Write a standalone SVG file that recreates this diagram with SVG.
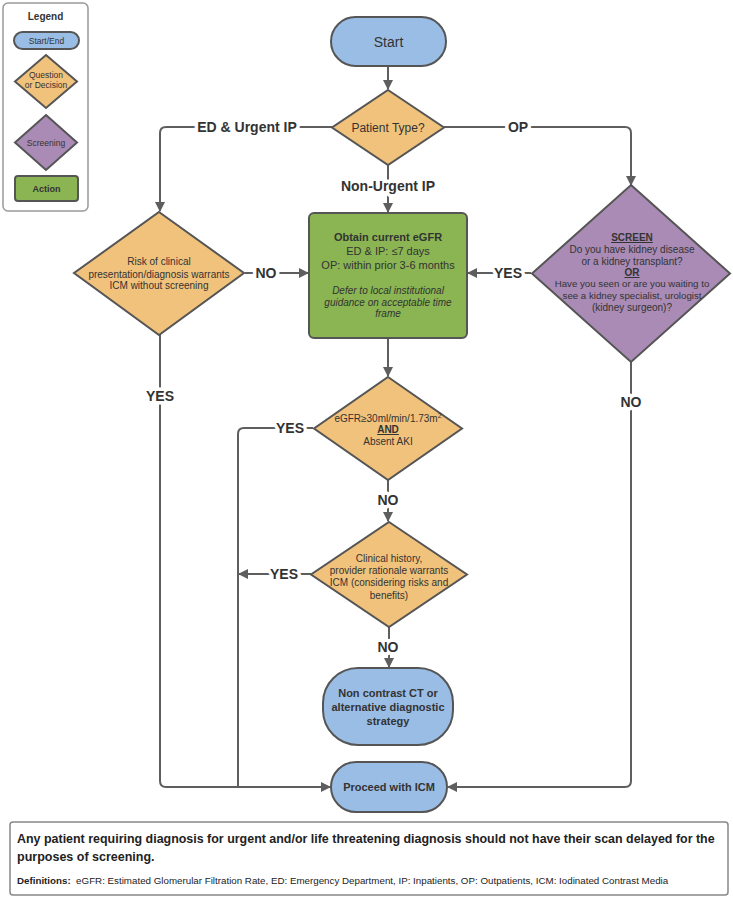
<svg xmlns="http://www.w3.org/2000/svg" width="733" height="900" viewBox="0 0 733 900">
<defs>
<marker id="arr" viewBox="0 0 10 10" refX="9" refY="5" markerWidth="10" markerHeight="10" markerUnits="userSpaceOnUse" orient="auto">
<path d="M0,0 L10,5 L0,10 z" fill="#5e5e5e"/>
</marker>
<style>
.t{font-family:"Liberation Sans",Arial,sans-serif;fill:#333;text-anchor:middle}
.b{font-weight:bold}
.lbl{font-family:"Liberation Sans",Arial,sans-serif;font-size:14px;font-weight:bold;fill:#333;text-anchor:middle;stroke:#fff;stroke-width:7px;paint-order:stroke;stroke-linejoin:round}
.blue{fill:#9abde5;stroke:#555;stroke-width:2}
.org{fill:#f1c27b;stroke:#555;stroke-width:2}
.pur{fill:#a98bb5;stroke:#555;stroke-width:2}
.grn{fill:#8ab552;stroke:#555;stroke-width:2}
.con{fill:none;stroke:#5e5e5e;stroke-width:2}
.u{text-decoration:underline}
.n{font-family:"Liberation Sans",Arial,sans-serif;fill:#222}
</style>
</defs>
<rect width="733" height="900" fill="#fff"/>

<g id="legend">
<rect x="3" y="3" width="85" height="208" rx="5" fill="#fff" stroke="#999" stroke-width="1.5"/>
<text class="t b" x="45.5" y="20" font-size="10">Legend</text>
<rect class="blue" x="14" y="32" width="65" height="17" rx="8.5" stroke-width="1.5"/>
<text class="t" x="46.5" y="43.5" font-size="8.5">Start/End</text>
<polygon class="org" points="46,55 77,81.5 46,108 15,81.5" stroke-width="1.5"/>
<text class="t" x="46" y="78" font-size="8.5">Question</text>
<text class="t" x="46" y="88" font-size="8.5">or Decision</text>
<polygon class="pur" points="46,115 77,142.5 46,170 15,142.5" stroke-width="1.5"/>
<text class="t" x="46" y="145.5" font-size="8.5">Screening</text>
<rect class="grn" x="15" y="176" width="63" height="25" rx="3" stroke-width="1.5"/>
<text class="t b" x="46.5" y="192" font-size="9">Action</text>
</g>

<g id="connectors">
<path class="con" d="M388,66 V89" marker-end="url(#arr)"/>
<path class="con" d="M332,127 H166 Q160,127 160,133 V211" marker-end="url(#arr)"/>
<path class="con" d="M444,127 H625 Q631,127 631,133 V185" marker-end="url(#arr)"/>
<path class="con" d="M388,165 V212" marker-end="url(#arr)"/>
<path class="con" d="M245,273 H308" marker-end="url(#arr)"/>
<path class="con" d="M531,273 H468" marker-end="url(#arr)"/>
<path class="con" d="M160,335 V781 Q160,787 166,787 H330" marker-end="url(#arr)"/>
<path class="con" d="M388,338 V376" marker-end="url(#arr)"/>
<path class="con" d="M313,428 H244 Q238,428 238,434 V787"/>
<path class="con" d="M388,480 V521" marker-end="url(#arr)"/>
<path class="con" d="M311,574 H239" marker-end="url(#arr)"/>
<path class="con" d="M389,627 V667" marker-end="url(#arr)"/>
<path class="con" d="M631,362 V781 Q631,787 625,787 H448" marker-end="url(#arr)"/>
<text class="lbl" x="247" y="132">ED &amp; Urgent IP</text>
<text class="lbl" x="518" y="132">OP</text>
<text class="lbl" x="388" y="191">Non-Urgent IP</text>
<text class="lbl" x="266" y="278">NO</text>
<text class="lbl" x="508" y="278">YES</text>
<text class="lbl" x="160" y="401">YES</text>
<text class="lbl" x="631" y="407">NO</text>
<text class="lbl" x="290" y="433">YES</text>
<text class="lbl" x="388" y="505">NO</text>
<text class="lbl" x="284" y="579">YES</text>
<text class="lbl" x="388" y="652">NO</text>
</g>

<g id="start">
<rect class="blue" x="331" y="17" width="115" height="49" rx="24.5"/>
<text class="t" x="388.5" y="46.5" font-size="14">Start</text>
</g>

<g id="patient-type">
<polygon class="org" points="388,90 444,127.5 388,165 332,127.5"/>
<text class="t" x="388" y="132" font-size="12">Patient Type?</text>
</g>

<g id="risk">
<polygon class="org" points="159,212 244,273 159,335 74,273"/>
<text class="t" x="159" y="265" font-size="10">Risk of clinical</text>
<text class="t" x="159" y="277.5" font-size="10">presentation/diagnosis warrants</text>
<text class="t" x="159" y="289" font-size="10">ICM without screening</text>
</g>

<g id="egfr-action">
<rect class="grn" x="309" y="213" width="158" height="125" rx="5"/>
<text class="t b" x="388" y="241" font-size="11">Obtain current eGFR</text>
<text class="t" x="388" y="255" font-size="11">ED &amp; IP: ≤7 days</text>
<text class="t" x="388" y="268.5" font-size="11">OP: within prior 3-6 months</text>
<text class="t" x="388" y="293.5" font-size="10" font-style="italic">Defer to local institutional</text>
<text class="t" x="388" y="305.5" font-size="10" font-style="italic">guidance on acceptable time</text>
<text class="t" x="388" y="317" font-size="10" font-style="italic">frame</text>
</g>

<g id="screen">
<polygon class="pur" points="631,185 730,273.5 631,362 532,273.5"/>
<text class="t b u" x="632" y="241" font-size="10">SCREEN</text>
<text class="t" x="632" y="253" font-size="10">Do you have kidney disease</text>
<text class="t" x="632" y="265" font-size="10">or a kidney transplant?</text>
<text class="t b u" x="632" y="276" font-size="10">OR</text>
<text class="t" x="632" y="287" font-size="9.7">Have you seen or are you waiting to</text>
<text class="t" x="632" y="298.5" font-size="9.7">see a kidney specialist, urologist</text>
<text class="t" x="632" y="311" font-size="10">(kidney surgeon)?</text>
</g>

<g id="egfr-check">
<polygon class="org" points="388,377 462,428.5 388,480 314,428.5"/>
<text class="t" x="388" y="421.5" font-size="10">eGFR≥30ml/min/1.73m<tspan font-size="7" dy="-4">2</tspan></text>
<text class="t b u" x="388" y="433" font-size="10">AND</text>
<text class="t" x="388" y="445" font-size="10">Absent AKI</text>
</g>

<g id="clinical">
<polygon class="org" points="389,522 467,574.5 389,627 311,574.5"/>
<text class="t" x="389" y="561.5" font-size="10">Clinical history,</text>
<text class="t" x="389" y="573.5" font-size="10">provider rationale warrants</text>
<text class="t" x="389" y="586" font-size="10">ICM (considering risks and</text>
<text class="t" x="389" y="598.5" font-size="10">benefits)</text>
</g>

<g id="non-contrast">
<rect class="blue" x="323" y="668" width="130" height="77" rx="35"/>
<text class="t b" x="388" y="697" font-size="11">Non contrast CT or</text>
<text class="t b" x="388" y="711" font-size="11">alternative diagnostic</text>
<text class="t b" x="388" y="724.5" font-size="11">strategy</text>
</g>

<g id="proceed">
<rect class="blue" x="331" y="762" width="116" height="50" rx="25"/>
<text class="t b" x="389" y="791" font-size="11">Proceed with ICM</text>
</g>

<g id="note">
<rect x="10" y="822" width="718" height="73" rx="3" fill="#fff" stroke="#888" stroke-width="1.5"/>
<text class="n" transform="translate(17,843) scale(0.8,1)" font-size="13.5" font-weight="bold" textLength="872" lengthAdjust="spacingAndGlyphs">Any patient requiring diagnosis for urgent and/or life threatening diagnosis should not have their scan delayed for the</text>
<text class="n" transform="translate(17,861) scale(0.8,1)" font-size="13.5" font-weight="bold" textLength="172" lengthAdjust="spacingAndGlyphs">purposes of screening.</text>
<text class="n" transform="translate(17,884) scale(0.8,1)" font-size="9.5" textLength="814" lengthAdjust="spacingAndGlyphs"><tspan font-weight="bold">Definitions:</tspan>&#160; eGFR: Estimated Glomerular Filtration Rate, ED: Emergency Department, IP: Inpatients, OP: Outpatients, ICM: Iodinated Contrast Media</text>
</g>
</svg>
